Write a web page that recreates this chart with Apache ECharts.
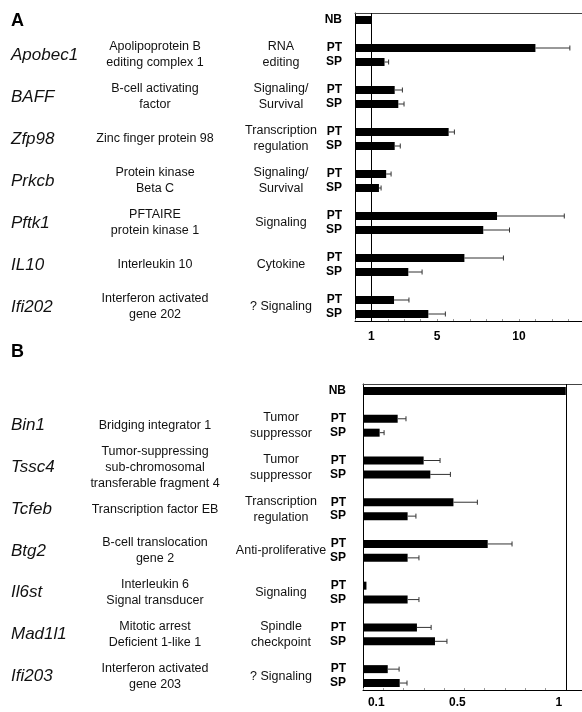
<!DOCTYPE html>
<html>
<head>
<meta charset="utf-8">
<script src="https://cdn.jsdelivr.net/npm/echarts@6/dist/echarts.min.js"></script>
<style>
html,body{margin:0;padding:0;background:#fff;}
#chart{width:582px;height:712px;}
</style>
</head>
<body>
<div id="chart"></div>
<script>
// ---------- Panel A data ----------
const genesA = ['Apobec1','BAFF','Zfp98','Prkcb','Pftk1','IL10','Ifi202'];
const descA = ['Apolipoprotein B\nediting complex 1','B-cell activating\nfactor','Zinc finger protein 98','Protein kinase\nBeta C','PFTAIRE\nprotein kinase 1','Interleukin 10','Interferon activated\ngene 202'];
const funcA = ['RNA\nediting','Signaling/\nSurvival','Transcription\nregulation','Signaling/\nSurvival','Signaling','Cytokine','? Signaling'];
const nbA = 1.0;
const ptA = [11.0, 2.42, 5.71, 1.9, 8.66, 6.67, 2.38];
const ptErrA = [2.1, 0.47, 0.35, 0.3, 4.1, 2.38, 0.91];
const spA = [1.8, 2.64, 2.42, 1.46, 7.82, 3.25, 4.47];
const spErrA = [0.25, 0.35, 0.34, 0.13, 1.6, 0.84, 1.04];
const tickLabelsA = [1, 5, 10];

// ---------- Panel B data ----------
const genesB = ['Bin1','Tssc4','Tcfeb','Btg2','Il6st','Mad1l1','Ifi203'];
const descB = ['Bridging integrator 1','Tumor-suppressing\nsub-chromosomal\ntransferable fragment 4','Transcription factor EB','B-cell translocation\ngene 2','Interleukin 6\nSignal transducer','Mitotic arrest\nDeficient 1-like 1','Interferon activated\ngene 203'];
const funcB = ['Tumor\nsuppressor','Tumor\nsuppressor','Transcription\nregulation','Anti-proliferative','Signaling','Spindle\ncheckpoint','? Signaling'];
const nbB = 1.0;
const ptB = [0.171, 0.299, 0.446, 0.615, 0.017, 0.266, 0.122];
const ptErrB = [0.041, 0.081, 0.118, 0.12, 0, 0.07, 0.056];
const spB = [0.082, 0.332, 0.220, 0.220, 0.220, 0.355, 0.181];
const spErrB = [0.022, 0.099, 0.041, 0.056, 0.056, 0.059, 0.036];
const tickLabelsB = [0.1, 0.5, 1];

// ---------- build category structure ----------
function build(nb, pt, ptErr, sp, spErr) {
  const cats = ['NB'];
  const bars = [nb];
  const errs = [];
  const pairIdx = [];
  for (let i = 0; i < pt.length; i++) {
    cats.push(''); bars.push(null);
    const p = cats.length;
    cats.push('PT'); bars.push(pt[i]);
    if (ptErr[i] > 0) errs.push([pt[i], pt[i] + ptErr[i], p]);
    cats.push('SP'); bars.push(sp[i]);
    if (spErr[i] > 0) errs.push([sp[i], sp[i] + spErr[i], p + 1]);
    pairIdx.push([p, p + 1]);
  }
  return {cats, bars, errs, pairIdx};
}
const A = build(nbA, ptA, ptErrA, spA, spErrA);
const B = build(nbB, ptB, ptErrB, spB, spErrB);

const FONT = 'Liberation Sans, Arial, sans-serif';

function errRender(params, api) {
  const y = api.value(2);
  const s = api.coord([api.value(0), y]);
  const e = api.coord([api.value(1), y]);
  const col = '#333';
  return {
    type: 'group',
    children: [
      {type: 'line', shape: {x1: s[0], y1: s[1], x2: e[0], y2: e[1]}, style: {stroke: col, lineWidth: 1}},
      {type: 'line', shape: {x1: e[0], y1: e[1] - 2.5, x2: e[0], y2: e[1] + 2.5}, style: {stroke: col, lineWidth: 1}}
    ]
  };
}

const maxA = 13.84, maxB = 1.08;

const chart = echarts.init(document.getElementById('chart'), null, {renderer: 'canvas'});
const option = {
  animation: false,
  backgroundColor: '#fff',
  grid: [
    {left: 355, right: 0, top: 13, height: 308},
    {left: 363, right: 0, top: 384, height: 306}
  ],
  xAxis: [
    {type: 'value', gridIndex: 0, min: 0, max: maxA, interval: 1,
     axisLine: {show: true, lineStyle: {color: '#000', width: 1}},
     axisTick: {show: true, inside: true, length: 2, lineStyle: {color: '#999'}},
     splitLine: {show: false},
     axisLabel: {show: true, margin: 10, showMaxLabel: false, color: '#000', fontFamily: FONT, fontWeight: 'bold', fontSize: 12,
       formatter: v => tickLabelsA.some(t => Math.abs(t - v) < 1e-6) ? String(Math.round(v)) : ''}},
    {type: 'value', gridIndex: 1, min: 0, max: maxB, interval: 0.1,
     axisLine: {show: true, lineStyle: {color: '#000', width: 1}},
     axisTick: {show: true, inside: true, length: 2, lineStyle: {color: '#999'}},
     splitLine: {show: false},
     axisLabel: {show: true, margin: 7, showMaxLabel: false, color: '#000', fontFamily: FONT, fontWeight: 'bold', fontSize: 12,
       padding: [0, 14, 0, 0],
       formatter: v => { const t = tickLabelsB.find(t => Math.abs(t - v) < 1e-6); return t === undefined ? '' : String(t); }}},
    {type: 'value', gridIndex: 0, position: 'top', min: 0, max: maxA,
     axisLine: {show: true, lineStyle: {color: '#444', width: 1}}, axisTick: {show: false}, axisLabel: {show: false}, splitLine: {show: false}},
    {type: 'value', gridIndex: 1, position: 'top', min: 0, max: maxB,
     axisLine: {show: true, lineStyle: {color: '#444', width: 1}}, axisTick: {show: false}, axisLabel: {show: false}, splitLine: {show: false}}
  ],
  yAxis: [
    {type: 'category', gridIndex: 0, data: A.cats, inverse: true,
     axisLine: {show: true, lineStyle: {color: '#000', width: 1}}, axisTick: {show: false},
     axisLabel: {margin: 13, color: '#000', fontFamily: FONT, fontWeight: 'bold', fontSize: 12, interval: 0}},
    {type: 'category', gridIndex: 1, data: B.cats, inverse: true,
     axisLine: {show: true, lineStyle: {color: '#000', width: 1}}, axisTick: {show: false},
     axisLabel: {margin: 17, color: '#000', fontFamily: FONT, fontWeight: 'bold', fontSize: 12, interval: 0}}
  ],
  series: [
    {type: 'bar', xAxisIndex: 0, yAxisIndex: 0, data: A.bars, barWidth: 8, itemStyle: {color: '#000'},
     markLine: {silent: true, symbol: ['none', 'none'], label: {show: false}, lineStyle: {color: '#000', type: 'solid', width: 1}, data: [{xAxis: 1}]}},
    {type: 'custom', xAxisIndex: 0, yAxisIndex: 0, data: A.errs, renderItem: errRender, encode: {x: [0, 1], y: 2}, z: 3},
    {type: 'bar', xAxisIndex: 1, yAxisIndex: 1, data: B.bars, barWidth: 8, itemStyle: {color: '#000'},
     markLine: {silent: true, symbol: ['none', 'none'], label: {show: false}, lineStyle: {color: '#000', type: 'solid', width: 1}, data: [{xAxis: 1}]}},
    {type: 'custom', xAxisIndex: 1, yAxisIndex: 1, data: B.errs, renderItem: errRender, encode: {x: [0, 1], y: 2}, z: 3}
  ]
};
chart.setOption(option);

// ---------- text columns, anchored to the category positions ----------
function textCols(gridIndex, genes, desc, func, pairIdx) {
  const els = [];
  genes.forEach((g, i) => {
    const y1 = chart.convertToPixel({gridIndex}, [0, pairIdx[i][0]])[1];
    const y2 = chart.convertToPixel({gridIndex}, [0, pairIdx[i][1]])[1];
    const y = (y1 + y2) / 2;
    els.push({type: 'text', x: 11, y, style: {text: g, fontFamily: FONT, fontStyle: 'italic', fontSize: 17, fill: '#111', align: 'left', verticalAlign: 'middle'}});
    els.push({type: 'text', x: 155, y, style: {text: desc[i], fontFamily: FONT, fontSize: 12.5, lineHeight: 16, fill: '#111', align: 'center', verticalAlign: 'middle'}});
    els.push({type: 'text', x: 281, y, style: {text: func[i], fontFamily: FONT, fontSize: 12.5, lineHeight: 16, fill: '#111', align: 'center', verticalAlign: 'middle'}});
  });
  return els;
}
const graphic = [
  {type: 'text', x: 11, y: 21, style: {text: 'A', fontFamily: FONT, fontWeight: 'bold', fontSize: 18, fill: '#000', verticalAlign: 'middle'}},
  {type: 'text', x: 11, y: 352, style: {text: 'B', fontFamily: FONT, fontWeight: 'bold', fontSize: 18, fill: '#000', verticalAlign: 'middle'}}
].concat(textCols(0, genesA, descA, funcA, A.pairIdx), textCols(1, genesB, descB, funcB, B.pairIdx));
chart.setOption({graphic});
</script>
</body>
</html>
